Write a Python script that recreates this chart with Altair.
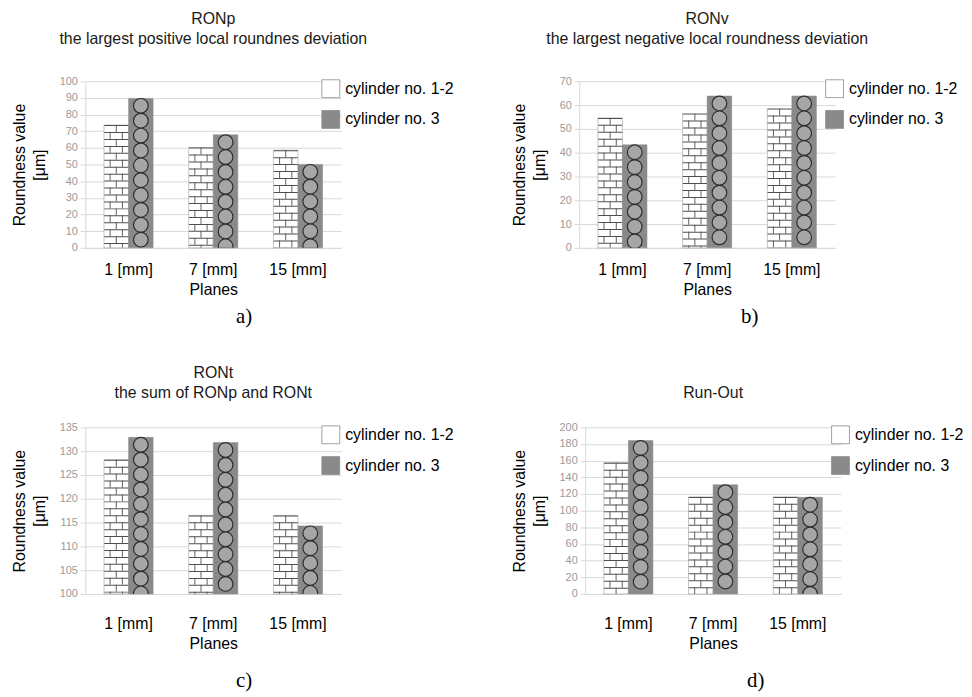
import altair as alt
import pandas as pd

# ---------------- data ----------------
planes = ["1 [mm]", "7 [mm]", "15 [mm]"]
series = ["cylinder no. 1-2", "cylinder no. 3"]

ronp_cyl12 = [73.7, 60.2, 58.6]
ronp_cyl3 = [89.7, 67.9, 50.1]
ronv_cyl12 = [54.6, 56.4, 58.5]
ronv_cyl3 = [43.3, 63.8, 63.8]
ront_cyl12 = [128.2, 116.5, 116.5]
ront_cyl3 = [132.9, 131.8, 114.3]
runout_cyl12 = [157.5, 116.5, 116.5]
runout_cyl3 = [184.3, 131.1, 116.1]

titles = ["RONp", "RONv", "RONt", "Run-Out"]
subtitles = [
    "the largest positive local roundnes deviation",
    "the largest negative local roundness deviation",
    "the sum of RONp and RONt",
    "",
]
captions = ["a)", "b)", "c)", "d)"]
y_title = ["Roundness value", "[μm]"]
x_title = "Planes"

ticks_a = [0, 10, 20, 30, 40, 50, 60, 70, 80, 90, 100]
ticks_b = [0, 10, 20, 30, 40, 50, 60, 70]
ticks_c = [100, 105, 110, 115, 120, 125, 130, 135]
ticks_d = [0, 20, 40, 60, 80, 100, 120, 140, 160, 180, 200]
domains = [[0, 100], [0, 70], [100, 135], [0, 200]]

# ---------------- style ----------------
W, H = 258, 168
FONT = "Liberation Sans"
GRID = "#d9d9d9"
P_IN, P_OUT = 0.42, 0.22
BAR_PX = W / (3 - P_IN + 2 * P_OUT) * (1 - P_IN) / 2
LINE = "#4f4f4f"
PITCH = 15.0
slots = ["q1", "q2", "q3", "q4", "q5", "q6", "q7"]


def panel(idx, vals12, vals3, ticks, row, col):
    domain = domains[idx]
    df = pd.DataFrame({
        "plane": planes + planes,
        "series": [series[0]] * 3 + [series[1]] * 3,
        "value": vals12 + vals3,
    })
    x = alt.X(
        "plane:N", sort=planes, title=x_title,
        scale=alt.Scale(paddingInner=P_IN, paddingOuter=P_OUT),
        axis=alt.Axis(
            labelAngle=0, labelFont=FONT, labelFontSize=16, labelColor="#000",
            labelPadding=14 if row == 0 else 22, ticks=False, domainColor=GRID,
            titleFont=FONT, titleFontSize=16, titleFontWeight="normal",
            titleColor="#000", titlePadding=4,
        ),
    )
    xo = alt.XOffset("series:N", sort=series, scale=alt.Scale(domain=series))
    y = alt.Y(
        "value:Q", title=y_title,
        scale=alt.Scale(domain=domain, nice=False, zero=False),
        axis=alt.Axis(
            values=ticks, grid=True, gridColor=GRID, domainColor=GRID,
            tickColor=GRID, tickSize=5, labelFont=FONT, labelFontSize=11,
            labelColor="#9a9a9a", labelPadding=3, titleFont=FONT,
            titleFontSize=16, titleFontWeight="normal", titleColor="#000",
            titlePadding=12, titleLineHeight=20,
        ),
    )
    y2 = alt.Y2Datum(domain[0])

    base = alt.Chart(df)
    bars = base.mark_bar(stroke="#8a8a8a", strokeWidth=0.5).encode(
        x=x, xOffset=xo, y=y, y2=y2,
        color=alt.Color(
            "series:N",
            scale=alt.Scale(domain=series, range=["#ffffff", "#8a8a8a"]),
            legend=alt.Legend(
                title=None, orient="none", legendX=238 if col == 0 else 248,
                legendY=-2, symbolType="square", symbolSize=324,
                symbolStrokeColor="#8a8a8a", symbolStrokeWidth=0.8,
                labelFont=FONT, labelFontSize=16, labelColor="#000",
                rowPadding=8, labelOffset=5,
            ),
        ),
    )
    c12 = base.transform_filter(alt.datum.series == series[0])
    c3 = base.transform_filter(alt.datum.series == series[1])

    lines = c12.mark_rule(
        color=LINE, strokeWidth=BAR_PX - 0.5, strokeDash=[1, 6],
        strokeCap="butt", clip=True,
    ).encode(x=x, xOffset=xo, y=y, y2=y2)
    joints_c = c12.mark_rule(
        color=LINE, strokeWidth=0.9, strokeDash=[7, 7], clip=True,
    ).encode(x=x, xOffset=xo, y=y, y2=y2)
    joints_q = c12.transform_calculate(
        slot="['q1', 'q3']"
    ).transform_flatten(["slot"]).mark_rule(
        color=LINE, strokeWidth=0.9, strokeDash=[7, 7], strokeDashOffset=7,
        clip=True,
    ).encode(
        x=x,
        xOffset=alt.XOffset(
            "slot:N",
            scale=alt.Scale(domain=slots, paddingInner=0, paddingOuter=0.5),
        ),
        y=y, y2=y2,
    )
    dots_dark = c3.mark_rule(
        color="#2e2e2e", strokeWidth=PITCH + 1.0, strokeDash=[0, PITCH],
        strokeDashOffset=PITCH / 2, strokeCap="round", clip=True,
    ).encode(x=x, xOffset=xo, y=y, y2=y2)
    dots_light = c3.mark_rule(
        color="#a6a6a6", strokeWidth=PITCH - 1.4, strokeDash=[0, PITCH],
        strokeDashOffset=PITCH / 2, strokeCap="round", clip=True,
    ).encode(x=x, xOffset=xo, y=y, y2=y2)

    cap = alt.Chart(alt.Data(values=[{"t": captions[idx]}])).mark_text(
        font="Liberation Serif", fontSize=21, color="#000",
    ).encode(
        x=alt.value(160 if col == 0 else 172),
        y=alt.value(H + (70 if row == 0 else 88)),
        text="t:N",
    )

    tkw = dict(
        text=titles[idx], font=FONT, fontSize=16, fontWeight="normal",
        color="#1a1a1a", anchor="middle", frame="group",
        offset=29 if row == 0 else 21,
    )
    if subtitles[idx]:
        tkw.update(subtitle=subtitles[idx], subtitleFont=FONT,
                   subtitleFontSize=16, subtitleColor="#1a1a1a",
                   subtitlePadding=4)
    return alt.layer(
        bars, lines, joints_c, joints_q, dots_dark, dots_light, cap
    ).resolve_scale(xOffset="independent").properties(
        width=W, height=H, title=alt.Title(**tkw)
    )


pa = panel(0, ronp_cyl12, ronp_cyl3, ticks_a, 0, 0)
pb = panel(1, ronv_cyl12, ronv_cyl3, ticks_b, 0, 1)
pc = panel(2, ront_cyl12, ront_cyl3, ticks_c, 1, 0)
pd_ = panel(3, runout_cyl12, runout_cyl3, ticks_d, 1, 1)

row1 = alt.hconcat(pa, pb, spacing=57).resolve_scale(color="independent")
row2 = alt.hconcat(pc, pd_, spacing=57).resolve_scale(color="independent")
chart = alt.vconcat(row1, row2, spacing=38).resolve_scale(
    color="independent"
).properties(
    padding={"left": 3, "top": 0, "right": 0, "bottom": 0}
).configure_view(strokeWidth=0)

chart.save("out.html", embed_options={"renderer": "svg", "actions": False})
